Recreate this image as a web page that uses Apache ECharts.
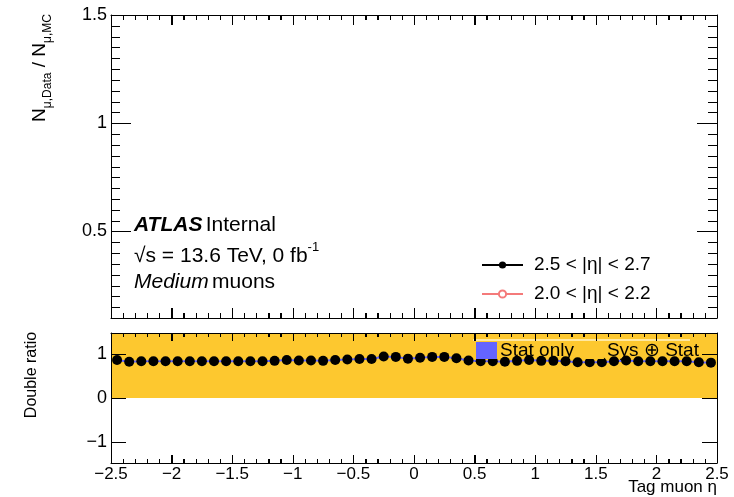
<!DOCTYPE html>
<html>
<head>
<meta charset="utf-8">
<script src="https://cdn.jsdelivr.net/npm/echarts@6/dist/echarts.min.js"></script>
<style>
  html, body { margin: 0; padding: 0; background: #fff; }
  #chart { width: 734px; height: 497px; }
</style>
</head>
<body>
<div id="chart"></div>
<script>
// tag muon eta bin centres (0.1 wide bins)
const etaCenters = [
  -2.45, -2.35, -2.25, -2.15, -2.05, -1.95, -1.85, -1.75, -1.65, -1.55,
  -1.45, -1.35, -1.25, -1.15, -1.05, -0.95, -0.85, -0.75, -0.65, -0.55,
  -0.45, -0.35, -0.25, -0.15, -0.05, 0.05, 0.15, 0.25, 0.35, 0.45,
  0.55, 0.65, 0.75, 0.85, 0.95, 1.05, 1.15, 1.25, 1.35, 1.45,
  1.55, 1.65, 1.75, 1.85, 1.95, 2.05, 2.15, 2.25, 2.35, 2.45
]
// double ratio per bin
const doubleRatio = [
  0.86, 0.82, 0.83, 0.83, 0.83, 0.83, 0.83, 0.83, 0.83, 0.83,
  0.83, 0.83, 0.83, 0.84, 0.86, 0.85, 0.85, 0.84, 0.86, 0.87,
  0.88, 0.88, 0.94, 0.93, 0.89, 0.91, 0.93, 0.93, 0.90, 0.85,
  0.83, 0.83, 0.82, 0.84, 0.86, 0.84, 0.84, 0.83, 0.81, 0.81,
  0.81, 0.83, 0.85, 0.83, 0.83, 0.83, 0.83, 0.83, 0.81, 0.80
]
// sys (+) stat band: lower / upper edge
const sysBand = [0, 1.47]

const xRange = [-2.5, 2.5]
const xMajorTicks = [-2.5, -2, -1.5, -1, -0.5, 0, 0.5, 1, 1.5, 2, 2.5]
const xMinorStep = 0.1
const topYLabels = [0.5, 1, 1.5]
const topYRange = [0.1, 1.5]
const topYMinorStep = 0.05
const ratioYLabels = [-1, 0, 1]
const ratioYRange = [-1.47, 1.47]

const legendTop = ['2.5 < |η| < 2.7', '2.0 < |η| < 2.2']
const legendRatio = ['Stat only', 'Sys ⊕ Stat']

const FONT = 'Liberation Sans, Arial, Helvetica, sans-serif'
const minus = v => String(v).replace('-', '\u2212')

// minor tick positions between two edges (axis decoration only)
function minorTicks (lo, hi, step) {
  const out = []
  const n = Math.round((hi - lo) / step)
  for (let i = 0; i <= n; i++) out.push(+(lo + i * step).toFixed(4))
  return out
}

function frameX (grid, pos, labels, len) {
  return {
    type: 'value', gridIndex: grid, position: pos, z: 10,
    min: xRange[0], max: xRange[1], interval: 0.5,
    axisLine: { show: true, onZero: false, lineStyle: { color: '#000', width: 1 } },
    axisTick: { show: true, inside: true, length: len, lineStyle: { color: '#000' } },
    minorTick: { show: true, splitNumber: 5, length: Math.round(len / 2), lineStyle: { color: '#000' } },
    axisLabel: { show: labels, color: '#000', fontSize: 17, fontFamily: FONT, margin: 3, formatter: minus },
    splitLine: { show: false }
  }
}
function frameY (grid, pos, range, vals, labels, len) {
  return {
    type: 'value', gridIndex: grid, position: pos, z: 10,
    min: range[0], max: range[1],
    axisLine: { show: true, onZero: false, lineStyle: { color: '#000', width: 1 } },
    axisTick: { show: true, inside: true, length: len, customValues: vals, lineStyle: { color: '#000' } },
    axisLabel: { show: labels, customValues: vals, color: '#000', fontSize: 18, fontFamily: FONT, margin: 4, formatter: minus },
    splitLine: { show: false }
  }
}

const px = v => Math.round(v) + 0.5

// inward ticks on bottom + top edge for each x value
function xTickRender (yRange) {
  return function (params, api) {
    const x = api.value(0)
    const len = api.value(2)
    const b = api.coord([x, yRange[0]])
    const t = api.coord([x, yRange[1]])
    const st = { stroke: '#000', lineWidth: 1 }
    return {
      type: 'group',
      children: [
        { type: 'line', shape: { x1: px(b[0]), y1: b[1], x2: px(b[0]), y2: b[1] - len }, style: st },
        { type: 'line', shape: { x1: px(t[0]), y1: t[1], x2: px(t[0]), y2: t[1] + len }, style: st }
      ]
    }
  }
}
// inward ticks on left + right edge for each y value
function yTickRender () {
  return function (params, api) {
    const y = api.value(1)
    const len = api.value(2)
    const l = api.coord([xRange[0], y])
    const r = api.coord([xRange[1], y])
    const st = { stroke: '#000', lineWidth: 1 }
    return {
      type: 'group',
      children: [
        { type: 'line', shape: { x1: l[0], y1: px(l[1]), x2: l[0] + len, y2: px(l[1]) }, style: st },
        { type: 'line', shape: { x1: r[0], y1: px(r[1]), x2: r[0] - len, y2: px(r[1]) }, style: st }
      ]
    }
  }
}

function tickSeries (xi, yi, data, render) {
  return {
    type: 'custom', xAxisIndex: xi, yAxisIndex: yi, z: 20, silent: true, clip: false,
    renderItem: render, data: data
  }
}

const xMinor = minorTicks(xRange[0], xRange[1], xMinorStep)
const topYMinor = minorTicks(topYRange[0], topYRange[1], topYMinorStep)

const topXTickData = xMinor.map(v => [v, topYRange[0], 5]).concat(xMajorTicks.map(v => [v, topYRange[0], 10]))
const topYTickData = topYMinor.map(v => [0, v, 9]).concat(topYLabels.map(v => [0, v, 20]))
const botXTickData = xMinor.map(v => [v, 0, 4]).concat(xMajorTicks.map(v => [v, 0, 8]))
const botYTickData = ratioYLabels.map(v => [0, v, 15])

const pairs = etaCenters.map((x, i) => [x, doubleRatio[i]])

const option = {
  animation: false,
  backgroundColor: '#fff',
  textStyle: { fontFamily: FONT },
  grid: [
    { left: 111, right: 17, top: 15, height: 303 },
    { left: 111, right: 17, top: 333, height: 130 }
  ],
  xAxis: [
    frameX(0, 'bottom', false, 10),
    frameX(0, 'top', false, 10),
    frameX(1, 'bottom', true, 8),
    frameX(1, 'top', false, 8)
  ],
  yAxis: [
    frameY(0, 'left', topYRange, topYLabels, true, 20),
    frameY(0, 'right', topYRange, topYLabels, false, 20),
    frameY(1, 'left', ratioYRange, ratioYLabels, true, 15),
    frameY(1, 'right', ratioYRange, ratioYLabels, false, 15)
  ],
  legend: [
    {
      data: legendTop,
      orient: 'vertical',
      left: 476, top: 250,
      itemWidth: 41, itemHeight: 9, itemGap: 9,
      textStyle: { fontSize: 19, color: '#000', fontFamily: FONT, padding: [0, 0, 0, 6], lineHeight: 20 },
      selectedMode: false
    },
    {
      data: legendRatio,
      orient: 'horizontal',
      left: 471, top: 336,
      icon: 'rect',
      itemWidth: 21, itemHeight: 17, itemGap: 9,
      textStyle: { fontSize: 19, color: '#000', fontFamily: FONT, padding: [0, 0, 0, -2] },
      selectedMode: false
    }
  ],
  series: [
    {
      name: legendTop[0], type: 'line', xAxisIndex: 0, yAxisIndex: 0,
      data: [], symbol: 'circle', symbolSize: 8,
      itemStyle: { color: '#000' }, lineStyle: { color: '#000', width: 1 }
    },
    {
      name: legendTop[1], type: 'line', xAxisIndex: 0, yAxisIndex: 0,
      data: [], symbol: 'emptyCircle', symbolSize: 8,
      itemStyle: { color: '#f47a7a', borderColor: '#f47a7a' }, lineStyle: { color: '#f47a7a', width: 1 }
    },
    {
      name: legendRatio[1], type: 'line', xAxisIndex: 2, yAxisIndex: 2,
      data: [], itemStyle: { color: '#fdc82f' },
      markArea: {
        silent: true,
        itemStyle: { color: '#fdc82f' },
        data: [[{ yAxis: sysBand[0] }, { yAxis: sysBand[1] }]]
      },
      z: 1
    },
    {
      name: legendRatio[0], type: 'line', xAxisIndex: 2, yAxisIndex: 2,
      data: pairs, showSymbol: false, symbol: 'none',
      itemStyle: { color: '#6464ff' }, lineStyle: { color: '#6464ff', width: 2 },
      z: 2
    },
    {
      name: 'data', type: 'scatter', xAxisIndex: 2, yAxisIndex: 2,
      data: pairs, symbol: 'circle', symbolSize: 10,
      itemStyle: { color: '#000', opacity: 1 }, z: 3
    },
    tickSeries(0, 0, topXTickData, xTickRender(topYRange)),
    tickSeries(0, 0, topYTickData, yTickRender()),
    tickSeries(2, 2, botXTickData, xTickRender(ratioYRange)),
    tickSeries(2, 2, botYTickData, yTickRender())
  ],
  graphic: [
    {
      type: 'line', silent: true, z: 5,
      shape: { x1: 473, y1: 340, x2: 690, y2: 340 },
      style: { stroke: '#fff3c8', lineWidth: 1.5 }
    },
    {
      type: 'text', left: 134, top: 215,
      style: {
        text: '{b|ATLAS} {r|Internal}',
        rich: {
          b: { fontSize: 21, fontWeight: 'bold', fontStyle: 'italic', fontFamily: FONT, fill: '#000' },
          r: { fontSize: 21, fontFamily: FONT, fill: '#000' }
        }
      }
    },
    {
      type: 'text', left: 134, top: 241,
      style: {
        text: '{r|√s = 13.6 TeV, 0 fb}{s|-1}',
        rich: {
          r: { fontSize: 21, fontFamily: FONT, fill: '#000', lineHeight: 26, verticalAlign: 'bottom' },
          s: { fontSize: 13, fontFamily: FONT, fill: '#000', lineHeight: 26, verticalAlign: 'top' }
        }
      }
    },
    {
      type: 'text', left: 134, top: 272,
      style: {
        text: '{i|Medium} {r|muons}',
        rich: {
          i: { fontSize: 21, fontStyle: 'italic', fontFamily: FONT, fill: '#000' },
          r: { fontSize: 21, fontFamily: FONT, fill: '#000' }
        }
      }
    },
    {
      type: 'text', x: 40, y: 68, rotation: Math.PI / 2,
      style: {
        text: '{n|N}{s|μ,Data}{n| / N}{s|μ,MC}',
        align: 'center', verticalAlign: 'middle',
        rich: {
          n: { fontSize: 19, fontFamily: FONT, fill: '#000', lineHeight: 28, verticalAlign: 'middle' },
          s: { fontSize: 12, fontFamily: FONT, fill: '#000', lineHeight: 28, verticalAlign: 'bottom' }
        }
      }
    },
    {
      type: 'text', x: 32, y: 375, rotation: Math.PI / 2,
      style: {
        text: 'Double ratio', align: 'center', verticalAlign: 'middle',
        fontSize: 16, fontFamily: FONT, fill: '#000'
      }
    },
    {
      type: 'text', right: 17, top: 479,
      style: { text: 'Tag muon η', fontSize: 17, fontFamily: FONT, fill: '#000' }
    }
  ]
}

const chart = echarts.init(document.getElementById('chart'))
chart.setOption(option)
window.addEventListener('resize', () => chart.resize())
</script>
</body>
</html>
